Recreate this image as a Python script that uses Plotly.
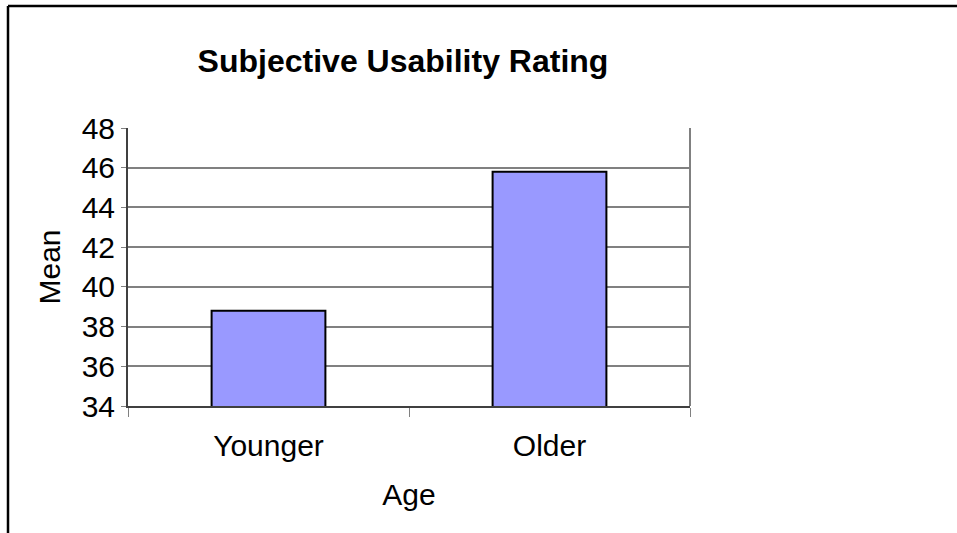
import plotly.graph_objects as go

# data
age_groups = ["Younger", "Older"]
mean_rating = [38.8, 45.8]
y_ticks = [34, 36, 38, 40, 42, 44, 46, 48]

FONT = "Liberation Sans, Arial, sans-serif"

fig = go.Figure(
    go.Bar(
        x=age_groups,
        y=mean_rating,
        width=0.405,
        marker=dict(color="#9999FF", line=dict(color="black", width=2)),
    )
)

fig.update_layout(
    width=957,
    height=533,
    margin=dict(l=128, r=267, t=128, b=127),
    paper_bgcolor="white",
    plot_bgcolor="white",
    showlegend=False,
    font=dict(family=FONT, size=30, color="black"),
    title=dict(
        text="<b>Subjective Usability Rating</b>",
        font=dict(family=FONT, size=32, color="black"),
        x=403 / 957,
        xanchor="center",
        xref="container",
        y=1 - 61 / 533,
        yanchor="middle",
        yref="container",
    ),
)

fig.update_xaxes(
    type="category",
    range=[-0.5, 1.5],
    tickson="boundaries",
    ticks="outside",
    ticklen=9,
    tickcolor="#808080",
    ticklabelstandoff=12,
    showgrid=False,
    showline=True,
    linecolor="#404040",
    linewidth=2,
    tickfont=dict(size=30),
    title=dict(text="Age", font=dict(size=30), standoff=23),
)

fig.update_yaxes(
    range=[34, 48],
    tickvals=y_ticks,
    ticks="outside",
    ticklen=5,
    tickcolor="#808080",
    showgrid=True,
    gridcolor="#808080",
    gridwidth=1.5,
    showline=True,
    linecolor="#404040",
    linewidth=2,
    tickfont=dict(size=30),
    title=dict(text="Mean", font=dict(size=30), standoff=12),
)

# plot-area right edge and the outer chart frame (only top and left are in view)
fig.add_shape(type="line", xref="paper", yref="paper", x0=1, x1=1, y0=0, y1=1,
              line=dict(color="#808080", width=2))
fig.add_shape(type="line", xref="paper", yref="paper",
              x0=(8 - 128) / 562, x1=(960 - 128) / 562,
              y0=1 + (128 - 6) / 278, y1=1 + (128 - 6) / 278,
              line=dict(color="black", width=2.5))
fig.add_shape(type="line", xref="paper", yref="paper",
              x0=(8 - 128) / 562, x1=(8 - 128) / 562,
              y0=1 + (128 - 6) / 278, y1=-(533 - 406 + 5) / 278,
              line=dict(color="black", width=2.5))

fig.write_html(
    "out.html",
    config={"displayModeBar": False},
    post_script="document.body.style.margin='0';",
)
